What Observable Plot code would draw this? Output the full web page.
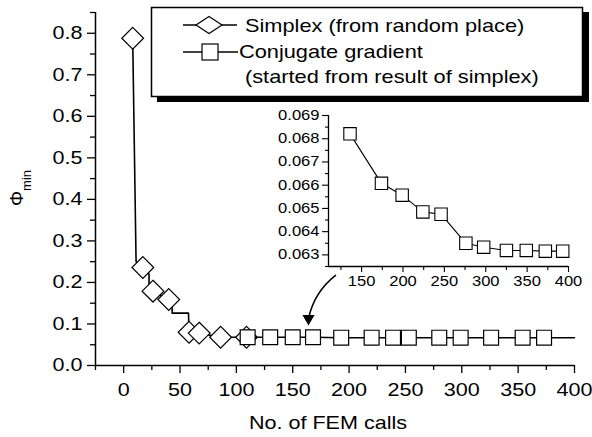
<!DOCTYPE html>
<html><head><meta charset="utf-8">
<script src="https://cdn.jsdelivr.net/npm/d3@7"></script>
<script src="https://cdn.jsdelivr.net/npm/@observablehq/plot@0.6"></script>
<style>
html,body{margin:0;padding:0;background:#fff;}
#wrap{position:relative;width:592px;height:437px;overflow:hidden;font-family:"Liberation Sans",Arial,sans-serif;background:#fff;}
#wrap > *{position:absolute;}
</style></head><body><div id="wrap"></div>
<script>
// ---- data ----
const simplexX = [8, 17, 26, 40, 58, 67, 86, 109];
const simplexY = [0.788, 0.236, 0.179, 0.159, 0.080, 0.078, 0.068, 0.068];
const simplexPathX = [8, 11, 17, 22.5, 22.5, 26, 40, 43, 43, 57.5, 58, 67, 86, 109];
const simplexPathY = [0.788, 0.25, 0.236, 0.22, 0.195, 0.179, 0.159, 0.14, 0.126, 0.126, 0.080, 0.078, 0.068, 0.068];
const cgX = [110, 130, 150, 168, 193, 220, 239, 253, 280, 299, 326, 354, 373];
const cgY = [0.068, 0.068, 0.068, 0.068, 0.067, 0.067, 0.067, 0.067, 0.067, 0.067, 0.067, 0.067, 0.067];
const cgPathX = [110, 130, 150, 168, 193, 220, 239, 253, 280, 299, 326, 354, 373, 400];
const cgPathY = [0.068, 0.068, 0.068, 0.068, 0.067, 0.067, 0.067, 0.067, 0.067, 0.067, 0.067, 0.067, 0.067, 0.067];
const insetX = [136, 174, 199, 224, 246, 276, 297.5, 325, 349, 372, 393];
const insetY = [0.06821, 0.06608, 0.06557, 0.06485, 0.06475, 0.0635, 0.06333, 0.06319, 0.06319, 0.06316, 0.06316];
const xTicks = [0, 50, 100, 150, 200, 250, 300, 350, 400];
const xMinor = [-25, 25, 75, 125, 175, 225, 275, 325, 375];
const yTicks = [0, 0.1, 0.2, 0.3, 0.4, 0.5, 0.6, 0.7, 0.8];
const yMinor = [0.05, 0.15, 0.25, 0.35, 0.45, 0.55, 0.65, 0.75, 0.85];
const insetXTicks = [150, 200, 250, 300, 350, 400];
const insetXMinor = [125, 175, 225, 275, 325, 375];
const insetYTicks = [0.063, 0.064, 0.065, 0.066, 0.067, 0.068, 0.069];
const insetYMinor = [0.0625, 0.0635, 0.0645, 0.0655, 0.0665, 0.0675, 0.0685];
const arrowFrom = [188, 0.217];
const arrowTo = [164, 0.113];
const seriesNames = ["Simplex (from random place)", "Conjugate gradient", "(started from result of simplex)"];
const xLabel = "No. of FEM calls";

const zipXY = (xs, ys) => xs.map((x, i) => ({x, y: ys[i]}));
const font = "'Liberation Sans', Arial, sans-serif";

function stretchText(svg, k) {
  svg.querySelectorAll("text").forEach(t => {
    const tr = t.getAttribute("transform") || "";
    if (t.hasAttribute("x") || t.hasAttribute("y") && !/em$/.test(t.getAttribute("y"))) {
      const x = +t.getAttribute("x") || 0, y = +t.getAttribute("y") || 0;
      t.removeAttribute("x"); t.removeAttribute("y");
      t.setAttribute("transform", `${tr} translate(${x},${y}) scale(${k},1)`);
    } else {
      t.setAttribute("transform", `${tr} scale(${k},1)`);
    }
  });
}

// ---- main chart ----
const main = Plot.plot({
  width: 592, height: 437,
  marginLeft: 95, marginRight: 18, marginTop: 12, marginBottom: 72,
  style: {fontSize: "18.6px", fontFamily: font, background: "transparent", color: "#000", overflow: "visible"},
  x: {domain: [-25, 400]},
  y: {domain: [0, 0.85]},
  marks: [
    Plot.axisX({ticks: xTicks, tickSize: 8, tickPadding: 9, tickFormat: d => String(d), strokeWidth: 1.3, label: null}),
    Plot.axisX({ticks: xMinor, tickSize: 5, tickFormat: () => "", strokeWidth: 1.3, label: null}),
    Plot.axisY({ticks: yTicks, tickSize: 8, tickPadding: 5, tickFormat: d3.format(".1f"), strokeWidth: 1.3, label: null}),
    Plot.axisY({ticks: yMinor, tickSize: 5, tickFormat: () => "", strokeWidth: 1.3, label: null}),
    Plot.ruleY([0], {stroke: "#000", strokeWidth: 1.5}),
    Plot.ruleX([-25], {stroke: "#000", strokeWidth: 1.5}),
    Plot.line(zipXY(simplexPathX, simplexPathY), {x: "x", y: "y", stroke: "#000", strokeWidth: 1.6}),
    Plot.dot(zipXY(simplexX, simplexY), {x: "x", y: "y", symbol: "diamond2", r: 9.8, fill: "#fff", stroke: "#000", strokeWidth: 1.2}),
    Plot.line(zipXY(cgPathX, cgPathY), {x: "x", y: "y", stroke: "#000", strokeWidth: 1.6}),
    Plot.dot(zipXY(cgX, cgY), {x: "x", y: "y", symbol: "square", r: 8.4, fill: "#fff", stroke: "#000", strokeWidth: 1.2}),
    Plot.arrow([{x1: arrowFrom[0], y1: arrowFrom[1], x2: arrowTo[0], y2: arrowTo[1]}], {x1: "x1", y1: "y1", x2: "x2", y2: "y2", bend: -20, headLength: 0, stroke: "#000", strokeWidth: 1.5}),
    Plot.dot([{x: arrowTo[0], y: arrowTo[1]}], {x: "x", y: "y", symbol: "triangle", rotate: 180, r: 4.5, fill: "#000", stroke: "none"})
  ]
});
stretchText(main, 1.16);
// axis titles
const ms = d3.select(main);
ms.append("text").attr("transform", "translate(328,429) scale(1.16,1)").attr("text-anchor", "middle")
  .attr("font-size", 18.6).attr("fill", "#000").text(xLabel);
const yl = ms.append("text").attr("transform", "translate(23,188) rotate(-90)").attr("text-anchor", "middle")
  .attr("fill", "#000").attr("font-size", 19);
yl.append("tspan").text("Φ");
yl.append("tspan").attr("font-size", 13).attr("dy", 8).text("min");
main.style.left = "0px"; main.style.top = "0px";
document.getElementById("wrap").appendChild(main);

// ---- inset ----
const inset = Plot.plot({
  width: 342, height: 200,
  marginLeft: 78, marginTop: 15, marginRight: 24, marginBottom: 34,
  style: {fontSize: "13.8px", fontFamily: font, background: "transparent", color: "#000", overflow: "visible"},
  x: {domain: [110, 400]},
  y: {domain: [0.0625, 0.069]},
  marks: [
    Plot.axisX({ticks: insetXTicks, tickSize: 6, tickPadding: 4, tickFormat: d => String(d), strokeWidth: 1.1, label: null}),
    Plot.axisX({ticks: insetXMinor, tickSize: 4, tickFormat: () => "", strokeWidth: 1.1, label: null}),
    Plot.axisY({ticks: insetYTicks, tickSize: 6, tickPadding: 3, tickFormat: d3.format(".3f"), strokeWidth: 1.1, label: null}),
    Plot.axisY({ticks: insetYMinor, tickSize: 3, tickFormat: () => "", strokeWidth: 1.1, label: null}),
    Plot.ruleY([0.0625], {stroke: "#000", strokeWidth: 1.3}),
    Plot.ruleX([110], {stroke: "#000", strokeWidth: 1.3}),
    Plot.line(zipXY(insetX, insetY), {x: "x", y: "y", stroke: "#000", strokeWidth: 1.1}),
    Plot.dot(zipXY(insetX, insetY), {x: "x", y: "y", symbol: "square", r: 7, fill: "#fff", stroke: "#000", strokeWidth: 1.1})
  ]
});
stretchText(inset, 1.2);
inset.style.left = "250px"; inset.style.top = "100px";
document.getElementById("wrap").appendChild(inset);

// ---- legend ----
const lg = d3.create("svg").attr("width", 447).attr("height", 110)
  .style("left", "145px").style("top", "0px").style("overflow", "visible");
lg.append("rect").attr("x", 12).attr("y", 12).attr("width", 432).attr("height", 90).attr("fill", "#000");
lg.append("rect").attr("x", 6.5).attr("y", 7.5).attr("width", 431).attr("height", 89).attr("fill", "#fff").attr("stroke", "#000").attr("stroke-width", 1.5);
// row 1: diamond
lg.append("line").attr("x1", 38).attr("x2", 92).attr("y1", 25).attr("y2", 25).attr("stroke", "#000").attr("stroke-width", 1.5);
lg.append("path").attr("d", "M51,25L64,16.5L77,25L64,33.5Z").attr("fill", "#fff").attr("stroke", "#000").attr("stroke-width", 1.2);
// row 2: square
lg.append("line").attr("x1", 38).attr("x2", 93).attr("y1", 52).attr("y2", 52).attr("stroke", "#000").attr("stroke-width", 1.5);
lg.append("rect").attr("x", 57).attr("y", 44).attr("width", 16).attr("height", 16).attr("fill", "#fff").attr("stroke", "#000").attr("stroke-width", 1.2);
const rows = [[100, 32], [94, 58], [100, 83]];
seriesNames.forEach((s, i) => {
  lg.append("text").attr("transform", `translate(${rows[i][0]},${rows[i][1]}) scale(1.17,1)`)
    .attr("font-family", font).attr("font-size", 18.6).attr("fill", "#000").text(s);
});
document.getElementById("wrap").appendChild(lg.node());
</script></body></html>
